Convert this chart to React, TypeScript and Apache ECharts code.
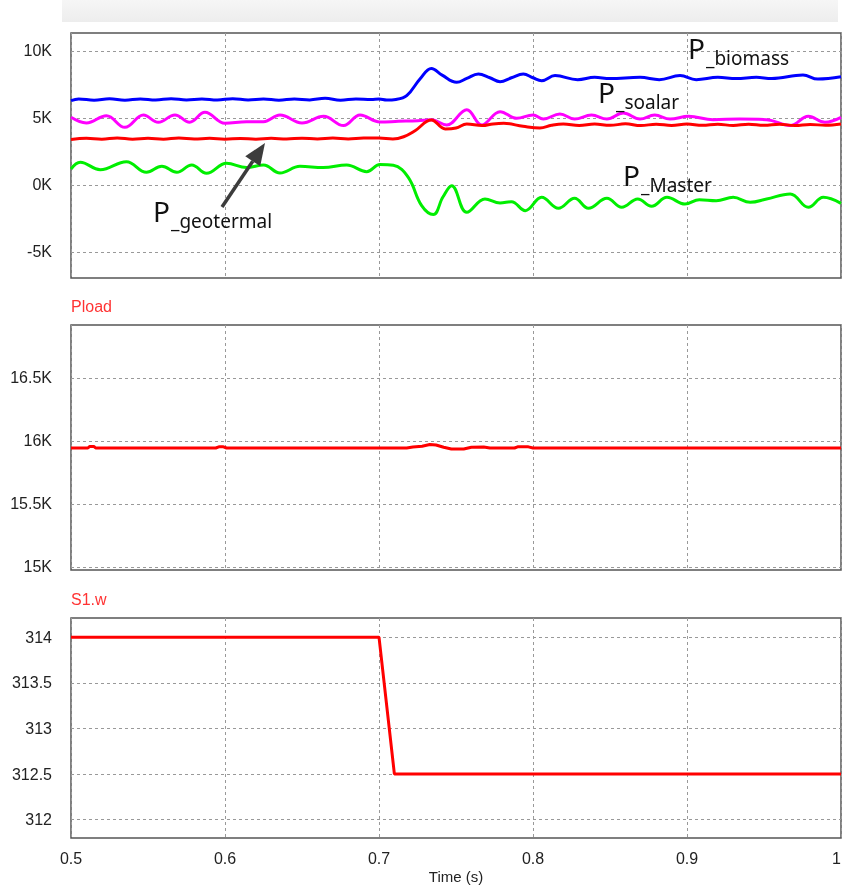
import React, { useEffect, useRef } from "react";
import * as echarts from "echarts";

// Time axis
const timeTicks = [0.5, 0.6, 0.7, 0.8, 0.9, 1.0];

// Top panel: powers (W)  [time s, value]
const pBiomass: [number, number][] = [
  [0.5, 6300], [0.505, 6420], [0.515, 6330], [0.525, 6440], [0.535, 6330], [0.545, 6420],
  [0.555, 6340], [0.565, 6440], [0.575, 6350], [0.585, 6420], [0.595, 6340], [0.605, 6440],
  [0.615, 6350], [0.625, 6410], [0.635, 6330], [0.645, 6420], [0.655, 6350], [0.665, 6470],
  [0.675, 6330], [0.685, 6420], [0.695, 6380], [0.7, 6410], [0.705, 6340], [0.711, 6380],
  [0.718, 6660], [0.7266, 7910], [0.734, 8700], [0.741, 8200], [0.7504, 7660], [0.757, 7950],
  [0.7645, 8280], [0.772, 8000], [0.7786, 7710], [0.786, 8000], [0.7937, 8280], [0.8, 8000],
  [0.8056, 7780], [0.8143, 8160], [0.829, 7860], [0.84, 8030], [0.85, 7950], [0.8695, 8030],
  [0.882, 7860], [0.8955, 8160], [0.906, 7860], [0.92, 8030], [0.932, 7950], [0.945, 8030],
  [0.955, 7950], [0.9753, 8210], [0.985, 7900], [1.0, 8070],
];

const pSolar: [number, number][] = [
  [0.5, 5050], [0.51, 4630], [0.523, 5170], [0.535, 4300], [0.547, 5220], [0.5567, 4680],
  [0.5675, 5220], [0.577, 4680], [0.587, 5420], [0.6, 4600], [0.614, 4725], [0.625, 4725],
  [0.6357, 5220], [0.65, 4630], [0.664, 5125], [0.677, 4430], [0.6877, 5220], [0.7006, 4700],
  [0.7125, 4750], [0.7253, 4800], [0.734, 4870], [0.744, 4480], [0.757, 5620], [0.7667, 4480],
  [0.7786, 5470], [0.7894, 4975], [0.8, 5220], [0.8067, 4920], [0.8175, 5300], [0.827, 4920],
  [0.838, 5220], [0.848, 4920], [0.8586, 5370], [0.8695, 4920], [0.879, 5220], [0.889, 4920],
  [0.901, 5125], [0.917, 4875], [0.934, 4920], [0.9517, 4875], [0.967, 4430], [0.9788, 5125],
  [0.9896, 4680], [1.0, 5050],
];

const pGeothermal: [number, number][] = [
  [0.5, 3400], [0.51, 3480], [0.52, 3420], [0.53, 3500], [0.54, 3420], [0.55, 3480],
  [0.56, 3420], [0.57, 3500], [0.58, 3430], [0.59, 3480], [0.6, 3420], [0.61, 3470],
  [0.62, 3420], [0.63, 3480], [0.64, 3430], [0.65, 3490], [0.66, 3430], [0.67, 3500],
  [0.68, 3430], [0.69, 3500], [0.7, 3500], [0.709, 3430], [0.716, 3600], [0.7234, 4050],
  [0.734, 4850], [0.743, 4180], [0.75, 4250], [0.757, 4550], [0.767, 4430], [0.774, 4550],
  [0.781, 4600], [0.7935, 4380], [0.8045, 4250], [0.812, 4450], [0.8197, 4550], [0.83, 4430],
  [0.84, 4550], [0.85, 4450], [0.86, 4560], [0.87, 4430], [0.88, 4540], [0.89, 4440],
  [0.9, 4550], [0.91, 4450], [0.92, 4530], [0.93, 4440], [0.94, 4540], [0.95, 4450],
  [0.96, 4540], [0.97, 4430], [0.98, 4520], [0.99, 4450], [1.0, 4550],
];

const pMaster: [number, number][] = [
  [0.5, 1190], [0.506, 1690], [0.519, 1145], [0.536, 1740], [0.549, 945], [0.559, 1395],
  [0.5687, 945], [0.5784, 1490], [0.588, 870], [0.601, 1620], [0.614, 1300], [0.625, 1490],
  [0.6357, 895], [0.6487, 1395], [0.6638, 1300], [0.679, 1490], [0.692, 995], [0.7006, 1520],
  [0.7093, 1470], [0.719, 570], [0.7277, -1540], [0.7353, -2200], [0.7415, -900],
  [0.7472, -50], [0.757, -2040], [0.7688, -1045], [0.7786, -1340], [0.786, -1250],
  [0.795, -1915], [0.8056, -920], [0.8165, -1740], [0.827, -995], [0.836, -1740],
  [0.848, -995], [0.8576, -1665], [0.868, -1045], [0.877, -1590], [0.887, -920],
  [0.8987, -1420], [0.908, -1095], [0.919, -1170], [0.93, -920], [0.941, -1290],
  [0.9517, -1045], [0.967, -670], [0.9788, -1665], [0.9885, -920], [1.0, -1370],
];

// Middle panel: Pload
const pLoad: [number, number][] = [
  [0.5, 15944], [0.511, 15944], [0.512, 15955], [0.515, 15955], [0.516, 15944],
  [0.594, 15944], [0.596, 15953], [0.599, 15953], [0.601, 15944], [0.718, 15944],
  [0.722, 15952], [0.728, 15958], [0.733, 15972], [0.737, 15968], [0.742, 15950],
  [0.747, 15936], [0.755, 15936], [0.76, 15950], [0.768, 15952], [0.772, 15944],
  [0.788, 15944], [0.79, 15953], [0.797, 15953], [0.8, 15944], [1.0, 15944],
];

// Bottom panel: S1.w
const s1w: [number, number][] = [
  [0.5, 314], [0.7, 314], [0.71, 312.5], [1.0, 312.5],
];

// Tick values
const topTicks = [-5000, 0, 5000, 10000];
const loadTicks = [15000, 15500, 16000, 16500];
const wTicks = [312, 312.5, 313, 313.5, 314];

const kFmt = (v: number) => `${v / 1000}K`;

export default function App() {
  const ref = useRef<HTMLDivElement>(null);

  useEffect(() => {
    if (!ref.current) return;
    const chart = echarts.init(ref.current, undefined, { renderer: "svg" });

    const gridBase = {
      left: 71,
      right: 1,
      show: true,
      containLabel: false,
      outerBoundsMode: "none",
      borderColor: "#555",
      borderWidth: 1.5,
      backgroundColor: "#fff",
    };
    const splitLine = {
      show: true,
      lineStyle: { color: "#999", type: [3, 3] as any, width: 1 },
    };
    const labelStyle = {
      color: "#222",
      fontSize: 16,
      fontFamily: "Liberation Sans, Arial, sans-serif",
    };

    const xAxisBase = (gridIndex: number, showLabels: boolean) => ({
      type: "value",
      gridIndex,
      min: timeTicks[0],
      max: timeTicks[timeTicks.length - 1],
      interval: 0.1,
      axisLine: { show: false },
      axisTick: { show: false },
      splitLine,
      axisLabel: {
        show: showLabels,
        ...labelStyle,
        margin: 12,
        hideOverlap: false,
        alignMaxLabel: "right",
        formatter: (v: number) => (Math.abs(v - 1) < 1e-9 ? "1" : v.toFixed(1)),
      },
      name: showLabels ? "Time (s)" : "",
      nameLocation: "middle",
      nameGap: 31,
      nameTextStyle: { ...labelStyle, fontSize: 15 },
    });

    const yAxisBase = (
      gridIndex: number,
      min: number,
      max: number,
      ticks: number[],
      fmt: (v: number) => string
    ) => ({
      type: "value",
      gridIndex,
      min,
      max,
      axisLine: { show: false },
      axisTick: { show: false, customValues: ticks },
      splitLine,
      axisLabel: {
        ...labelStyle,
        margin: 19,
        customValues: ticks,
        formatter: fmt,
      },
    });

    const lineSeries = (
      name: string,
      data: [number, number][],
      color: string,
      idx: number,
      smooth: number | boolean
    ) => ({
      name,
      type: "line",
      xAxisIndex: idx,
      yAxisIndex: idx,
      data,
      showSymbol: false,
      smooth,
      lineStyle: { color, width: 3 },
      itemStyle: { color },
      z: 3,
    });

    // arrow geometry (annotation)
    const aStart = [222, 207];
    const aTip = [265, 143];
    const dx = aTip[0] - aStart[0];
    const dy = aTip[1] - aStart[1];
    const len = Math.sqrt(dx * dx + dy * dy);
    const ux = dx / len;
    const uy = dy / len;
    const headLen = 22;
    const headHalf = 9;
    const bx = aTip[0] - ux * headLen;
    const by = aTip[1] - uy * headLen;
    const px = -uy;
    const py = ux;

    const annFont = "Noto Sans, Open Sans, sans-serif";
    const bigP = (x: number, y: number) => ({
      type: "text",
      left: x,
      top: y,
      z: 20,
      style: { text: "P", fontSize: 28, fontFamily: annFont, fill: "#111" },
    });
    const sub = (x: number, y: number, t: string) => ({
      type: "text",
      left: x,
      top: y,
      z: 20,
      style: { text: t, fontSize: 19, fontFamily: annFont, fill: "#111" },
    });

    chart.setOption({
      animation: false,
      grid: [
        { ...gridBase, top: 33, height: 245 },
        { ...gridBase, top: 325, height: 245 },
        { ...gridBase, top: 618, height: 220 },
      ],
      xAxis: [xAxisBase(0, false), xAxisBase(1, false), xAxisBase(2, true)],
      yAxis: [
        yAxisBase(0, -6940, 11340, topTicks, kFmt),
        yAxisBase(1, 14976, 16920, loadTicks, kFmt),
        yAxisBase(2, 311.8, 314.21, wTicks, (v: number) => String(v)),
      ],
      series: [
        lineSeries("P_biomass", pBiomass, "#0000ff", 0, 0.4),
        lineSeries("P_soalar", pSolar, "#ff00ff", 0, 0.4),
        lineSeries("P_geotermal", pGeothermal, "#ff0000", 0, 0.4),
        lineSeries("P_Master", pMaster, "#00ee00", 0, 0.4),
        lineSeries("Pload", pLoad, "#ff0000", 1, false),
        lineSeries("S1.w", s1w, "#ff0000", 2, false),
      ],
      graphic: [
        {
          type: "rect",
          shape: { x: 62, y: 0, width: 776, height: 22 },
          style: {
            fill: new echarts.graphic.LinearGradient(0, 0, 0, 1, [
              { offset: 0, color: "#f6f6f6" },
              { offset: 1, color: "#ededed" },
            ]),
          },
        },
        {
          type: "text",
          left: 71,
          top: 298,
          style: { text: "Pload", fill: "#ff3333", fontSize: 16, fontFamily: labelStyle.fontFamily },
        },
        {
          type: "text",
          left: 71,
          top: 591,
          style: { text: "S1.w", fill: "#ff3333", fontSize: 16, fontFamily: labelStyle.fontFamily },
        },
        bigP(688, 34),
        sub(706, 48, "_biomass"),
        bigP(598, 78),
        sub(616, 92, "_soalar"),
        bigP(623, 161),
        sub(641, 175, "_Master"),
        bigP(153, 197),
        sub(171, 211, "_geotermal"),
        {
          type: "line",
          z: 20,
          shape: { x1: aStart[0], y1: aStart[1], x2: bx, y2: by },
          style: { stroke: "#3c3c3c", lineWidth: 3.5 },
        },
        {
          type: "polygon",
          z: 20,
          shape: {
            points: [
              [aTip[0], aTip[1]],
              [bx + px * headHalf, by + py * headHalf],
              [bx - px * headHalf, by - py * headHalf],
            ],
          },
          style: { fill: "#3c3c3c" },
        },
      ],
    });

    return () => chart.dispose();
  }, []);

  return (
    <div
      ref={ref}
      style={{ position: "fixed", left: 0, top: 0, width: 842, height: 887 }}
    />
  );
}
